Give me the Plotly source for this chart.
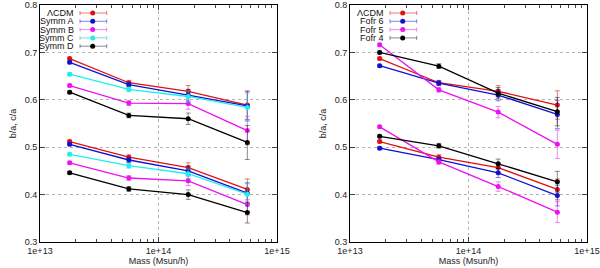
import plotly.graph_objects as go

mass = [1.78e13, 5.62e13, 1.78e14, 5.62e14]

# Left panel: upper (b/a) and lower (c/a) branches
lcdm_b = [0.687, 0.636, 0.618, 0.589]
lcdm_c = [0.512, 0.479, 0.457, 0.411]
symmA_b = [0.679, 0.632, 0.610, 0.587]
symmA_c = [0.506, 0.473, 0.450, 0.403]
symmB_b = [0.630, 0.593, 0.592, 0.535]
symmB_c = [0.467, 0.435, 0.429, 0.379]
symmC_b = [0.654, 0.622, 0.607, 0.584]
symmC_c = [0.485, 0.461, 0.444, 0.401]
symmD_b = [0.616, 0.567, 0.560, 0.510]
symmD_c = [0.446, 0.412, 0.400, 0.362]

# Right panel
fofr6_b = [0.672, 0.635, 0.610, 0.569]
fofr6_c = [0.498, 0.474, 0.446, 0.398]
fofr5_b = [0.716, 0.621, 0.574, 0.506]
fofr5_c = [0.543, 0.469, 0.417, 0.363]
fofr4_b = [0.700, 0.671, 0.614, 0.575]
fofr4_c = [0.523, 0.503, 0.465, 0.427]

err_b = [0.003, 0.005, 0.012, 0.030]
err_c = [0.003, 0.005, 0.010, 0.022]
err_b_D = [0.003, 0.005, 0.012, 0.036]

left_names = ["ΛCDM", "Symm A", "Symm B", "Symm C", "Symm D"]
right_names = ["ΛCDM", "Fofr 6", "Fofr 5", "Fofr 4"]
x_ticktext = ["1e+13", "1e+14", "1e+15"]
y_ticktext = ["0.3", "0.4", "0.5", "0.6", "0.7", "0.8"]

colors = {"red": "#e01010", "blue": "#1010d0", "magenta": "#ee10ee",
          "cyan": "#20eeee", "black": "#000000"}
err_colors = {"red": "rgba(224,16,16,0.55)", "blue": "rgba(16,16,208,0.5)",
              "magenta": "rgba(238,16,238,0.5)", "cyan": "rgba(32,200,200,0.6)",
              "black": "rgba(0,0,0,0.45)"}

fig = go.Figure()

def add(name, ys, es, c, xa, ya):
    fig.add_trace(go.Scatter(
        x=mass, y=ys, name=name, mode="lines+markers",
        line=dict(color=colors[c], width=1.3),
        marker=dict(color=colors[c], size=5),
        error_y=dict(type="data", array=es, color=err_colors[c], thickness=1, width=2.5),
        xaxis=xa, yaxis=ya, showlegend=False))

left = [(left_names[0], lcdm_b, lcdm_c, "red", err_b),
        (left_names[1], symmA_b, symmA_c, "blue", err_b),
        (left_names[2], symmB_b, symmB_c, "magenta", err_b),
        (left_names[3], symmC_b, symmC_c, "cyan", err_b),
        (left_names[4], symmD_b, symmD_c, "black", err_b_D)]
for name, b, cc, col, eb in left:
    add(name, b, eb, col, "x", "y")
    add(name, cc, err_c, col, "x", "y")

right = [(right_names[0], lcdm_b, lcdm_c, "red"),
         (right_names[1], fofr6_b, fofr6_c, "blue"),
         (right_names[2], fofr5_b, fofr5_c, "magenta"),
         (right_names[3], fofr4_b, fofr4_c, "black")]
for name, b, cc, col in right:
    add(name, b, err_b, col, "x2", "y2")
    add(name, cc, err_c, col, "x2", "y2")

FAM = "Liberation Sans, Arial, sans-serif"
font = dict(family=FAM, size=9, color="#222")

W, H = 600, 268
shapes, annotations = [], []

# gnuplot-style legends (text, then line sample with error caps and point)
def legend(entries, x0):
    for i, (name, col) in enumerate(entries):
        yc = 13 + i * 8.3
        yp = 1 - yc / H
        annotations.append(dict(text=name, xref="paper", yref="paper",
                                x=(x0 + 36) / W, y=yp, xanchor="right", yanchor="middle",
                                showarrow=False, font=dict(family=FAM, size=9, color="#111")))
        xa, xb = (x0 + 40) / W, (x0 + 66.7) / W
        shapes.append(dict(type="line", xref="paper", yref="paper", x0=xa, x1=xb, y0=yp, y1=yp,
                           line=dict(color=err_colors[col], width=1)))
        for xe in (xa, xb):
            shapes.append(dict(type="line", xref="paper", yref="paper", x0=xe, x1=xe,
                               y0=yp - 2 / H, y1=yp + 2 / H, line=dict(color=err_colors[col], width=1)))
        xm = (x0 + 52.7) / W
        shapes.append(dict(type="circle", xref="paper", yref="paper",
                           x0=xm - 2.5 / W, x1=xm + 2.5 / W, y0=yp - 2.5 / H, y1=yp + 2.5 / H,
                           fillcolor=colors[col], line=dict(width=0)))

legend([(n, c) for n, _, _, c, _ in left], 40)
legend([(n, c) for n, _, _, c in right], 350)

xcommon = dict(type="log", range=[13, 15], tickvals=[1e13, 1e14, 1e15],
               ticktext=x_ticktext, ticks="inside", ticklen=5,
               showline=True, linecolor="black", linewidth=1, mirror="ticks",
               showgrid=True, gridcolor="#b4b4b4", griddash="dot", gridwidth=1,
               minor=dict(ticks="inside", ticklen=3, dtick="D1", showgrid=False),
               tickfont=font, zeroline=False, automargin=False,
               title=dict(text="Mass (Msun/h)", font=font, standoff=2))
ycommon = dict(range=[0.3, 0.8], tickvals=[0.3, 0.4, 0.5, 0.6, 0.7, 0.8],
               ticktext=y_ticktext,
               ticks="inside", ticklen=5, showline=True, linecolor="black",
               linewidth=1, mirror="ticks", showgrid=True, gridcolor="#b4b4b4",
               griddash="dot", gridwidth=1, tickfont=font, zeroline=False, automargin=False,
               title=dict(text="b/a, c/a", font=font, standoff=6))

fig.update_layout(
    width=W, height=H,
    margin=dict(l=0, r=0, t=0, b=0),
    paper_bgcolor="white", plot_bgcolor="white",
    xaxis=dict(domain=[40/W, 277/W], anchor="y", **xcommon),
    yaxis=dict(domain=[1-242/H, 1-5/H], anchor="x", **ycommon),
    xaxis2=dict(domain=[350/W, 587/W], anchor="y2", **xcommon),
    yaxis2=dict(domain=[1-242/H, 1-5/H], anchor="x2", **ycommon),
    shapes=shapes, annotations=annotations,
)

fig.write_html("out.html", config={"displayModeBar": False},
               post_script="document.body.style.margin='0';document.body.style.overflow='hidden';")
